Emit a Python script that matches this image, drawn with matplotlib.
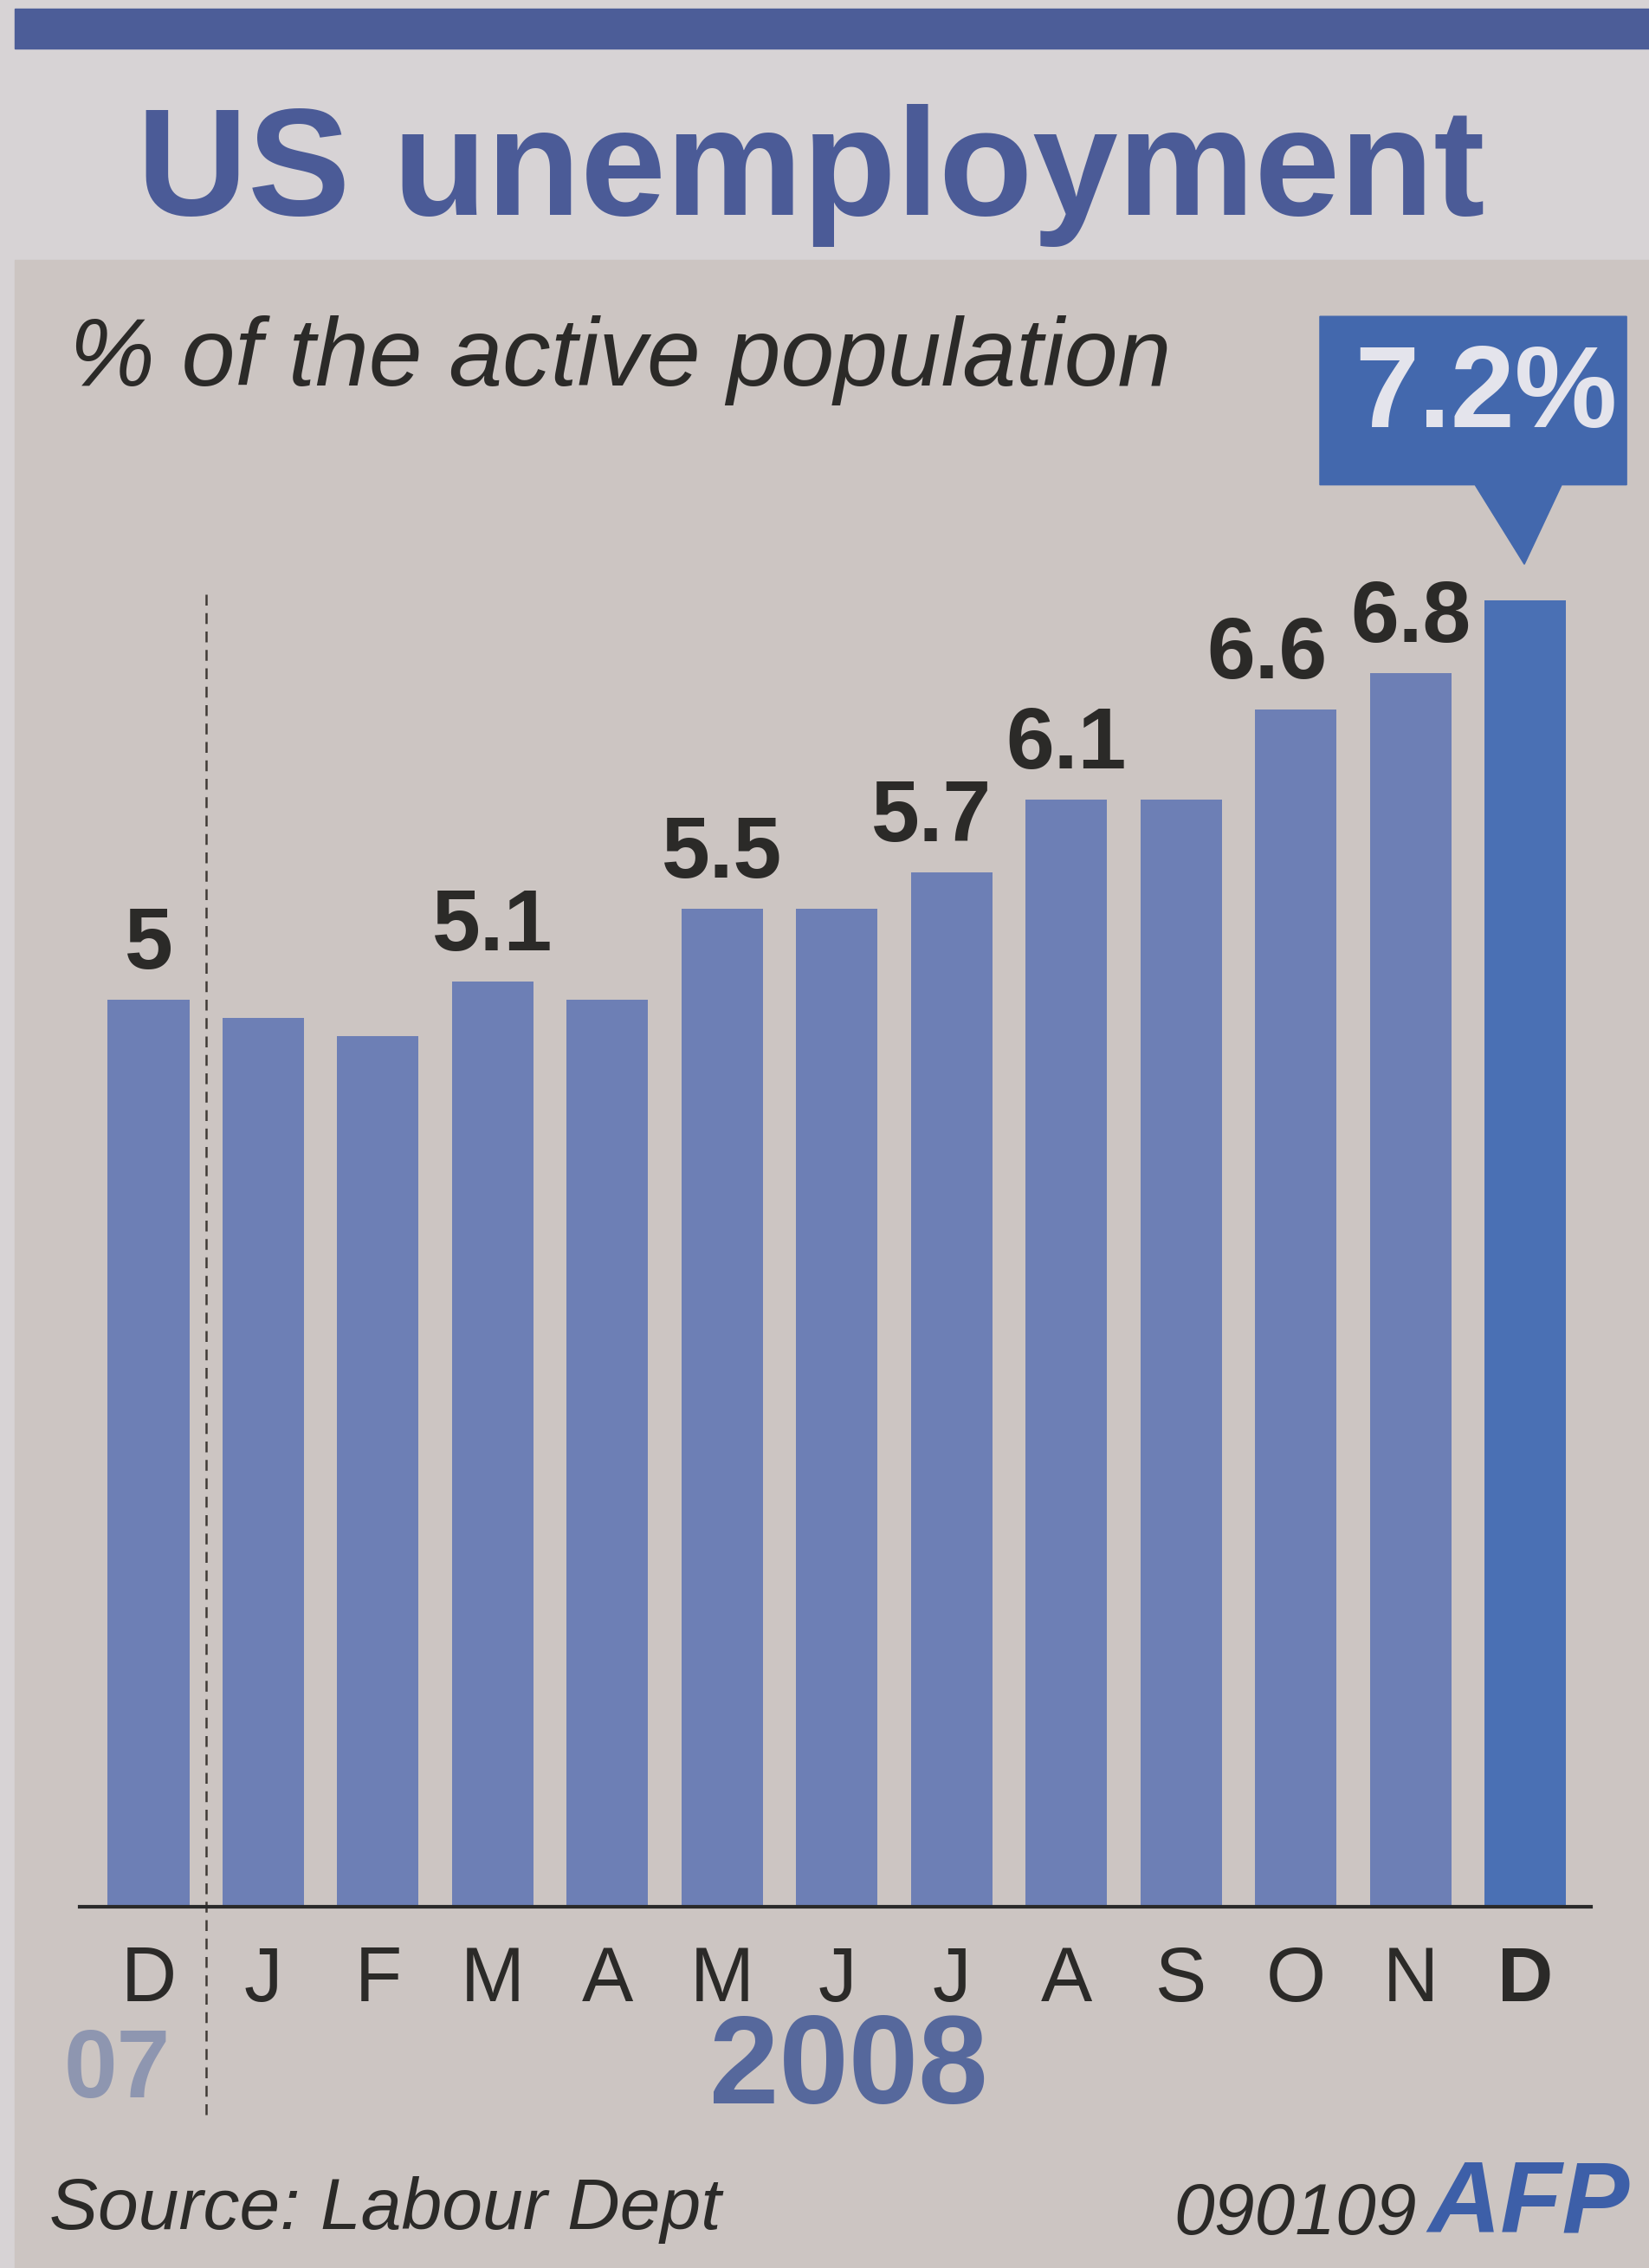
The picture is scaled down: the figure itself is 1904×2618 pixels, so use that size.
import matplotlib
matplotlib.use("Agg")
import matplotlib.pyplot as plt
import matplotlib.transforms as mtransforms
import matplotlib.font_manager as fm
from matplotlib.patches import Rectangle, Polygon

# ---------------- data ----------------
months = ["D", "J", "F", "M", "A", "M", "J", "J", "A", "S", "O", "N", "D"]
values = [5.0, 4.9, 4.8, 5.1, 5.0, 5.5, 5.5, 5.7, 6.1, 6.1, 6.6, 6.8, 7.2]
labelled = [0, 3, 5, 7, 8, 10, 11]          # bars whose value is printed above
year_labels = ["07", "2008"]
title = "US unemployment"
subtitle = "% of the active population"
source = "Source: Labour Dept"
code = "090109"

# ---------------- style ----------------
avail = {f.name for f in fm.fontManager.ttflist}
NARROW = "Liberation Sans Narrow" in avail
NF = "Liberation Sans Narrow" if NARROW else "Liberation Sans"
K = 1.0 if NARROW else 0.84
WF = "Liberation Sans"

bg_top = "#d7d3d5"
bg_panel = "#ccc5c2"
band_col = "#4c5d98"
title_col = "#4b5b97"
bar_col = "#6d7fb5"
last_col = "#4a70b4"
box_col = "#4368ad"
ink = "#2b2a28"

W, H = 1904, 2618
fig = plt.figure(figsize=(W / 100, H / 100), dpi=100)
fig.patch.set_facecolor(bg_top)

# panels (behind the axes)
fig.patches.append(Rectangle((17 / W, 0), 1 - 17 / W, 1 - 300 / H,
                             transform=fig.transFigure, color=bg_panel, zorder=-2))
fig.patches.append(Rectangle((17 / W, 1 - 56 / H), 1 - 17 / W, 46 / H,
                             transform=fig.transFigure, color=band_col, zorder=-2))

# texts
fig.text(0.083, 0.9053, title, fontsize=152 * K, fontweight="bold", color=title_col,
         family=NF, ha="left", va="baseline")
fig.text(0.042, 0.830, subtitle, fontsize=80, style="italic", color=ink,
         family=WF, ha="left", va="baseline")
fig.text(0.030, 0.0172, source, fontsize=72 * K, style="italic", color=ink,
         family=NF, ha="left", va="baseline")
fig.text(0.712, 0.0150, code, fontsize=72 * K, style="italic", color=ink,
         family=NF, ha="left", va="baseline")
fig.text(0.866, 0.0157, "AFP", fontsize=84, style="italic", fontweight="heavy",
         color="#3d5fa8", family=WF, ha="left", va="baseline")

# ---------------- axes ----------------
ax = fig.add_axes([0.0483, 0.1593, 0.9165, 0.64])
ax.patch.set_alpha(0)
x = list(range(len(values)))
colors = [bar_col] * (len(values) - 1) + [last_col]
ax.bar(x, values, width=0.71, color=colors, zorder=2)
ax.set_xlim(-0.6, 12.57)
ax.set_ylim(0, 8)
for s in ["top", "left", "right"]:
    ax.spines[s].set_visible(False)
ax.spines["bottom"].set_linewidth(3)
ax.spines["bottom"].set_color("#2a2a2a")
ax.spines["bottom"].set_zorder(3)
ax.set_yticks([])
ax.set_xticks(x)
ax.set_xticklabels(months, fontsize=64, family=NF, color=ink)
ax.tick_params(axis="x", length=0, pad=32)
ax.get_xticklabels()[-1].set_fontweight("bold")

# value labels
label_dx = {7: -17, 10: -24}
for i in labelled:
    ax.annotate(f"{values[i]:g}", (x[i], values[i]), xytext=(label_dx.get(i, 0), 26),
                textcoords="offset points", ha="center", va="baseline",
                fontsize=86 * K, fontweight="bold", family=NF, color=ink)

# year labels
xt = ax.get_xaxis_transform()
ax.text(-0.27, -0.114, year_labels[0], transform=xt, ha="center", va="center",
        fontsize=95 * K, fontweight="bold", family=NF, color="#8e96b0", clip_on=False)
ax.text(6.1, -0.113, year_labels[1], transform=xt, ha="center", va="center",
        fontsize=124 * K, fontweight="bold", family=NF, color="#56689c", clip_on=False)

# dashed year separator
ax.plot([0.5, 0.5], [-0.143, 0.905], transform=xt, clip_on=False,
        color="#3f3a35", lw=1.8, ls=(0, (5, 3.5)), zorder=1)

# callout for the last value
last = len(values) - 1
pt = (mtransforms.Affine2D().scale(1 / 72) + fig.dpi_scale_trans
      + mtransforms.ScaledTranslation(x[last], values[last], ax.transData))
ax.add_patch(Polygon([(-171, 96), (-42, 96), (-1, 30), (30, 96), (84, 96),
                      (84, 236), (-171, 236)], closed=True, transform=pt,
                     color=box_col, clip_on=False, zorder=4))
ax.annotate(f"{values[last]:g}%", (x[last], values[last]), xytext=(-33, 169),
            textcoords="offset points", ha="center", va="center",
            fontsize=114 * K, fontweight="bold", family=NF, color="#e4e4ec", zorder=5)

fig.savefig("out.png", dpi=100, facecolor=fig.get_facecolor())
